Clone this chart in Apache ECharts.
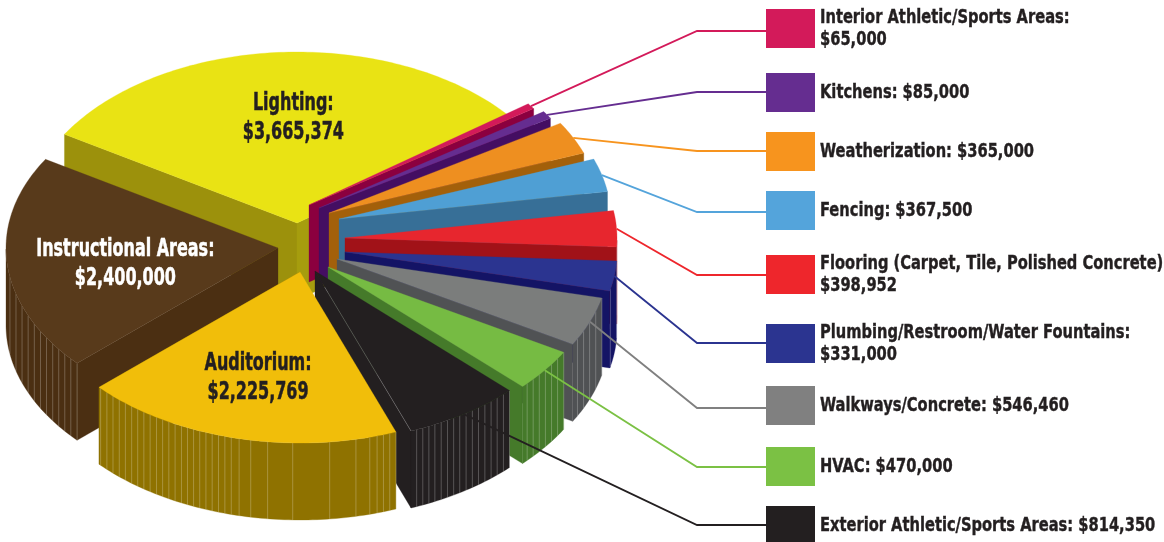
<!DOCTYPE html>
<html>
<head>
<meta charset="utf-8">
<style>
html, body { margin: 0; padding: 0; background: #fff; }
#app { width: 1164px; height: 542px; }
</style>
<script src="https://cdn.jsdelivr.net/npm/echarts@6/dist/echarts.min.js"></script>
</head>
<body>
<div id="app"></div>
<script>
// slices, clockwise from the edge of the Lighting wedge
const categories = ['Lighting', 'Interior Athletic/Sports Areas', 'Kitchens', 'Weatherization', 'Fencing',
	'Flooring (Carpet, Tile, Polished Concrete)', 'Plumbing/Restroom/Water Fountains', 'Walkways/Concrete',
	'HVAC', 'Exterior Athletic/Sports Areas', 'Auditorium', 'Instructional Areas'];
const values = [3665374, 65000, 85000, 365000, 367500, 398952, 331000, 546460, 470000, 814350, 2225769, 2400000];

const topColors = ['#e9e314', '#d31a5a', '#652d90', '#ee8f20', '#4f9fd4', '#e7262e', '#2b3490', '#7b7d7c', '#76bb43', '#231f20', '#f1be0a', '#583a1b'];
const wallColors = ['#9c910c', '#8b003f', '#440e62', '#a3600a', '#376f97', '#a11218', '#141465', '#505254', '#457a2a', '#231f20', '#8f7200', '#4b2f12'];
const swatchColors = ['', '#d31a5a', '#652d90', '#f7941e', '#54a4db', '#ee262c', '#2b3490', '#808080', '#7bc144', '#231f20', '', ''];

// where each wedge's point sits on the page once pulled out of the pie
const tipX = [297, 309, 319, 329, 339, 345, 345, 337, 328, 315, 300, 278];
const tipY = [223, 205, 208, 213, 219, 238, 252, 259, 267, 271, 272, 248];
// painter order, back to front
const drawOrder = [0, 1, 2, 3, 4, 5, 6, 7, 8, 9, 11, 10];

const startAngle = 148.75;
const rx = 272, ry = 171, depth = 77;
const total = values.reduce((a, b) => a + b, 0);

// legend rows, same indexes as categories
const legendTop = [0, 9, 73, 132, 191, 255, 324, 386, 447, 506, 0, 0];
const leaderY = [0, 31, 92, 151, 212, 275, 343, 408, 467, 525, 0, 0];
const twoLines = [1, 5, 6];
// labels drawn on the big wedges: distance along the mid angle, then a nudge
const labelAt = { 0: [0.64, 4, 5], 10: [0.63, -2, 2], 11: [0.56, -1, 7] };
const labelColor = { 0: '#231f20', 10: '#231f20', 11: '#fff' };

const FONT = '"DejaVu Sans Condensed", "DejaVu Sans", sans-serif';
const LEGEND_SQUEEZE = 0.815, LABEL_SQUEEZE = 0.74;
const money = v => '$' + v.toLocaleString('en-US');

let angles = [], a0 = startAngle;
values.forEach(v => {
	let a1 = a0 - v / total * 360;
	angles.push([a0, a1]);
	a0 = a1;
});

const rad = d => d * Math.PI / 180;
const onRim = (i, d) => [tipX[i] + rx * Math.cos(rad(d)), tipY[i] - ry * Math.sin(rad(d))];
const down = p => [p[0], p[1] + depth];

function poly(points, fill) {
	return { type: 'polygon', shape: { points: points }, style: { fill: fill, stroke: fill, lineWidth: 0.3 } };
}

function renderWedge(params, api) {
	let i = api.value(0);
	let [a, b] = angles[i];
	let tip = [tipX[i], tipY[i]];
	let rim = [];
	for (let d = a; d > b; d -= 1) rim.push(onRim(i, d));
	rim.push(onRim(i, b));
	let children = [];

	// straight cut faces, only the ones turned to the viewer
	let pa = rim[0], pb = rim[rim.length - 1];
	if (pa[0] < tip[0]) {
		children.push(poly([tip, pa, down(pa), down(tip)], wallColors[i]));
	}
	if (pb[0] > tip[0] || pb[1] > tip[1]) {
		let c = i === 0 ? '#a69d0e' : wallColors[i];
		children.push(poly([tip, pb, down(pb), down(tip)], c));
	}

	// outer wall, visible below the widest point of the ellipse
	let front = rim.filter((p, k) => Math.sin(rad(a - k)) < 0 || k === rim.length - 1 && Math.sin(rad(b)) < 0);
	if (front.length > 1) {
		children.push(poly(front.concat(front.map(down).reverse()), wallColors[i]));
		let lastX = null;
		for (let d = a; d >= b; d -= 0.1) {
			if (Math.sin(rad(d)) >= 0) continue;
			let p = onRim(i, d);
			let gap = Math.max(6, 40 * (1 - Math.abs(p[0] - tip[0]) / 85));
			if (lastX === null || Math.abs(p[0] - lastX) >= gap) {
				lastX = p[0];
				children.push({
					type: 'line',
					shape: { x1: p[0], y1: p[1], x2: p[0], y2: p[1] + depth },
					style: { stroke: 'rgba(255,255,255,0.3)', lineWidth: 0.8 }
				});
			}
		}
	}

	// top face
	children.push(poly([tip].concat(rim), topColors[i]));

	if (i === 9) {
		let p = rim[rim.length - 1];
		children.push({
			type: 'line',
			shape: { x1: tip[0] + (p[0] - tip[0]) * 0.1, y1: tip[1] + (p[1] - tip[1]) * 0.1, x2: p[0], y2: p[1] },
			style: { stroke: 'rgba(255,255,255,0.3)', lineWidth: 0.7 }
		});
	}

	if (labelAt[i]) {
		let mid = (a + b) / 2;
		let [f, dx, dy] = labelAt[i];
		children.push({
			type: 'text',
			z2: 50,
			x: tip[0] + f * rx * Math.cos(rad(mid)) + dx,
			y: tip[1] - f * ry * Math.sin(rad(mid)) + dy,
			scaleX: LABEL_SQUEEZE,
			style: {
				x: 0,
				y: 0,
				text: categories[i] + ':\n' + money(values[i]),
				fill: labelColor[i],
				stroke: labelColor[i],
				lineWidth: 0.5,
				font: 'bold 24px ' + FONT,
				lineHeight: 29,
				align: 'center',
				verticalAlign: 'middle'
			}
		});
	}

	// legend row with its leader
	if (swatchColors[i]) {
		let mid = (a + b) / 2;
		let start = onRim(i, mid);
		let y = legendTop[i];
		children.push({
			type: 'polyline',
			z2: 40,
			shape: { points: [start, [697, leaderY[i]], [766, leaderY[i]]] },
			style: { fill: null, stroke: swatchColors[i], lineWidth: 1.8 }
		});
		children.push({
			type: 'rect',
			z2: 41,
			shape: { x: 766, y: y, width: 49, height: 39 },
			style: { fill: swatchColors[i] }
		});
		let name = categories[i] + ':';
		children.push({
			type: 'text',
			z2: 41,
			x: 820,
			y: y + 19.5,
			scaleX: LEGEND_SQUEEZE,
			style: {
				x: 0,
				y: 0,
				text: twoLines.indexOf(i) >= 0 ? name + '\n' + money(values[i]) : name + ' ' + money(values[i]),
				fill: '#231f20',
				stroke: '#231f20',
				lineWidth: 0.4,
				font: 'bold 20px ' + FONT,
				lineHeight: 22,
				align: 'left',
				verticalAlign: 'middle'
			}
		});
	}

	return { type: 'group', children: children };
}

let chart = echarts.init(document.getElementById('app'));
chart.setOption({
	animation: false,
	backgroundColor: '#fff',
	series: [{
		type: 'custom',
		coordinateSystem: 'none',
		renderItem: renderWedge,
		silent: true,
		encode: { value: 1 },
		data: drawOrder.map(i => [i, values[i]])
	}]
});
</script>
</body>
</html>
